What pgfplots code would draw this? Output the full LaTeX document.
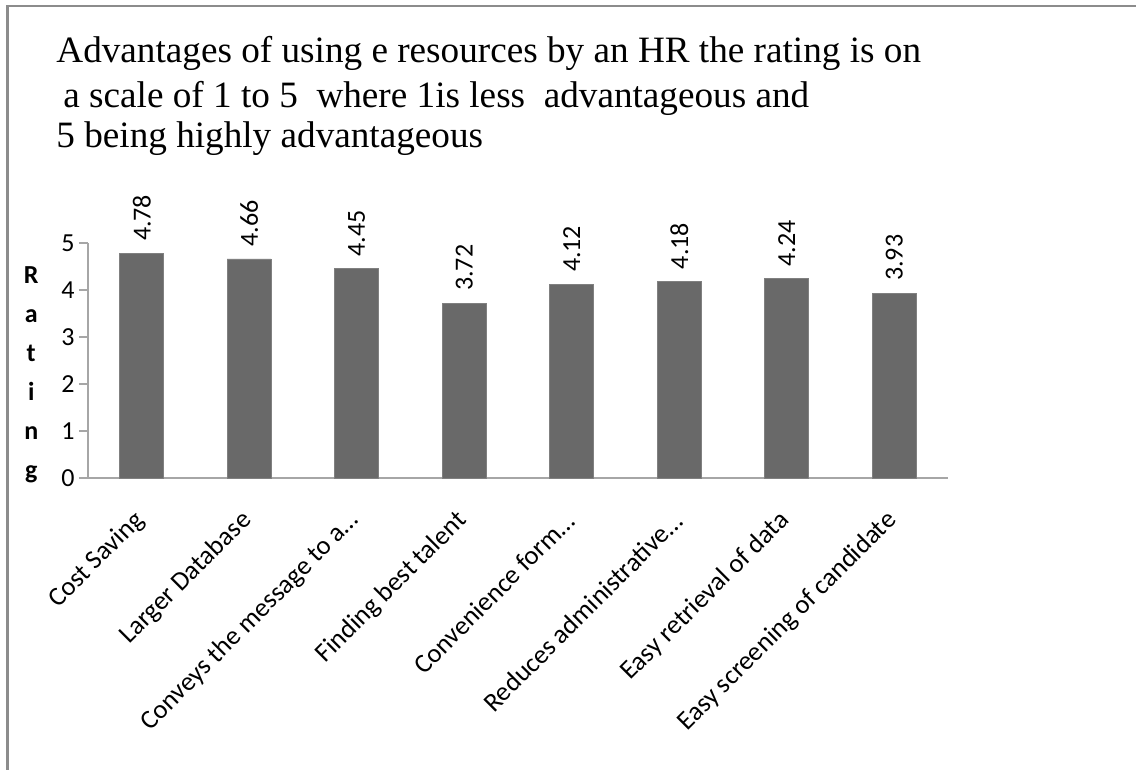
\documentclass[border=0pt]{standalone}
\usepackage{fontspec}
\setmainfont{Liberation Serif}
\setsansfont{Carlito}
\usepackage{pgfplots}
\pgfplotsset{compat=1.18}
\definecolor{barc}{HTML}{696969}
\definecolor{axc}{HTML}{A6A6A6}
\definecolor{framec}{HTML}{8C8C8C}

\begin{document}
\begin{tikzpicture}
\useasboundingbox (0,0) rectangle (568pt,-385pt);
% frame of the chart area
\draw[framec, line width=1.3pt] (3.7pt,-390pt) -- (3.7pt,-3pt) -- (575pt,-3pt);

% title, three lines as in the source
\node[anchor=base west, inner sep=0pt, font=\fontsize{18.6}{22}\selectfont] at (28pt,-31.5pt)
  {Advantages of using e resources by an HR the rating is on};
\node[anchor=base west, inner sep=0pt, font=\fontsize{18.6}{22}\selectfont] at (31.5pt,-54pt)
  {a scale of 1 to 5 \ where 1is less \ advantageous and};
\node[anchor=base west, inner sep=0pt, font=\fontsize{18.6}{22}\selectfont] at (28pt,-74pt)
  {5 being highly advantageous};

\begin{axis}[
  at={(44pt,-239pt)}, anchor=south west,
  scale only axis, width=430pt, height=117.5pt,
  xmin=-0.5, xmax=7.5, ymin=0, ymax=5,
  clip=false,
  axis x line*=bottom, axis y line*=left,
  axis line style={draw=axc, line width=0.6pt, -},
  tick style={draw=axc, line width=0.6pt},
  tick align=outside, major tick length=4.5pt,
  ytick={0,1,2,3,4,5},
  yticklabel style={font=\sffamily\fontsize{13}{14}\selectfont, inner sep=2pt},
  /pgf/number format/assume math mode=true,
  xtick={0,1,2,3,4,5,6,7},
  major x tick style={draw=none},
  xticklabels={Cost Saving, Larger Database, Conveys the message to a…, Finding best talent, Convenience form…, Reduces administrative…, Easy retrieval of data, Easy screening of candidate},
  xticklabel style={yshift=-14pt, xshift=0pt, rotate=45, anchor=east, font=\sffamily\fontsize{13.3}{14}\selectfont, inner sep=1pt},
  extra x ticks={-0.5,0.5,1.5,2.5,3.5,4.5,5.5,6.5,7.5},
  extra x tick labels={},
  extra x tick style={major tick length=4.5pt, tick style={draw=axc}},
  every axis y label/.style={at={(axis description cs:-0.066,0.44)}, anchor=center},
  ylabel={R\\a\\t\\i\\n\\g},
  ylabel style={align=center, font=\sffamily\bfseries\fontsize{13}{19.5}\selectfont},
]
\addplot[ybar, bar width=22pt, fill=barc, draw=barc!85!white,
  nodes near coords={\pgfmathprintnumber[fixed,precision=2,fixed zerofill]{\pgfplotspointmeta}},
  nodes near coords style={rotate=90, anchor=west, inner xsep=6pt, inner ysep=1pt,
    font=\sffamily\fontsize{13}{14}\selectfont, text=black},
] coordinates {
  (0,4.78) (1,4.66) (2,4.45) (3,3.72) (4,4.12) (5,4.18) (6,4.24) (7,3.93)
};
\end{axis}
\end{tikzpicture}
\end{document}
